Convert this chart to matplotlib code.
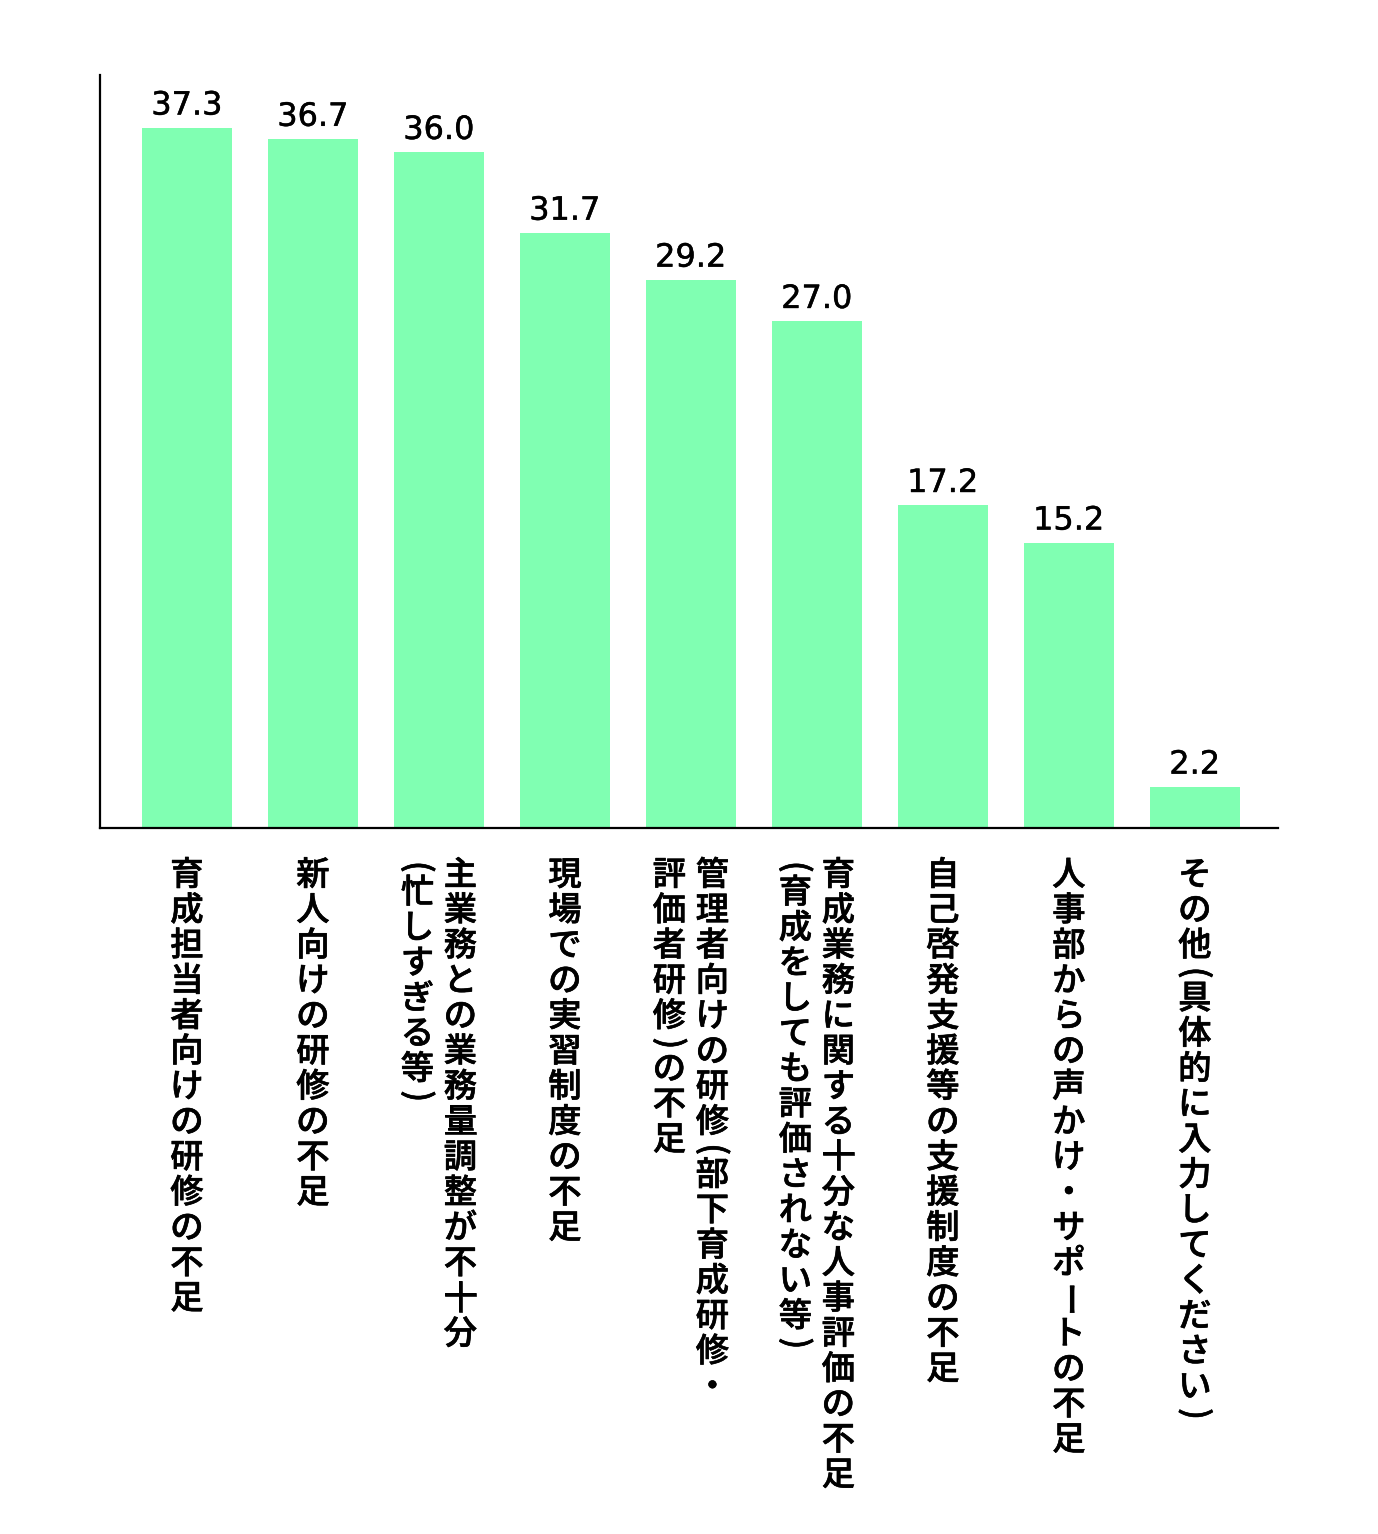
import matplotlib
matplotlib.use("Agg")
import matplotlib.pyplot as plt
import matplotlib.patheffects as pe

plt.rcParams['font.family'] = ['Noto Sans CJK JP', 'DejaVu Sans']

# data
values = [37.3, 36.7, 36.0, 31.7, 29.2, 27.0, 17.2, 15.2, 2.2]
value_labels = ["37.3", "36.7", "36.0", "31.7", "29.2", "27.0", "17.2", "15.2", "2.2"]
# each category: list of columns (right column first, vertical writing)
categories = [
    ["育成担当者向けの研修の不足"],
    ["新人向けの研修の不足"],
    ["主業務との業務量調整が不十分", "(忙しすぎる等)"],
    ["現場での実習制度の不足"],
    ["管理者向けの研修(部下育成研修・", "評価者研修)の不足"],
    ["育成業務に関する十分な人事評価の不足", "(育成をしても評価されない等)"],
    ["自己啓発支援等の支援制度の不足"],
    ["人事部からの声かけ・サポートの不足"],
    ["その他(具体的に入力してください)"],
]

W, H = 1378, 1534
fig = plt.figure(figsize=(W / 100, H / 100), dpi=100)
ax = fig.add_axes([100 / W, 1 - 828 / H, 1178 / W, 753 / H])

x = list(range(len(values)))
ax.bar(x, values, width=0.714, color='#80FFB2', zorder=2)
ax.set_xlim(-0.69, 8.66)
ax.set_ylim(0, 40.1)

for s in ['top', 'right']:
    ax.spines[s].set_visible(False)
for s in ['left', 'bottom']:
    ax.spines[s].set_linewidth(1.6)
    ax.spines[s].set_color('black')
ax.set_xticks([])
ax.set_yticks([])

thin = [pe.withStroke(linewidth=0.35, foreground='black')]
mid = [pe.withStroke(linewidth=0.45, foreground='black')]

# value labels
for xi, v, lab in zip(x, values, value_labels):
    ax.annotate(lab, (xi, v), xytext=(0, 9.4), textcoords='offset points',
                ha='center', va='baseline', fontsize=23,
                family='DejaVu Sans', color='black', path_effects=thin)

# vertical japanese labels
pitch = 35.3
top_px = 858
col_gap = 43
rot_chars = '()（）ー'


def vcolumn(xpix, text):
    y = top_px
    for ch in text:
        adv = pitch * 0.5 if ch in '()' else pitch
        yc = y + adv / 2
        rot = -90 if ch in rot_chars else 0
        fig.text(xpix / W, 1 - yc / H, ch, ha='center', va='center',
                 rotation=rot, fontsize=24, fontweight='medium', color='black',
                 path_effects=mid)
        y += adv


for xi, cols in zip(x, categories):
    xc = ax.transData.transform((xi, 0))[0]
    n = len(cols)
    for k, col in enumerate(cols):
        # first column is rightmost
        off = ((n - 1) / 2 - k) * col_gap
        vcolumn(xc + off, col)

fig.savefig('out.png', dpi=100, facecolor='white')
plt.close(fig)
